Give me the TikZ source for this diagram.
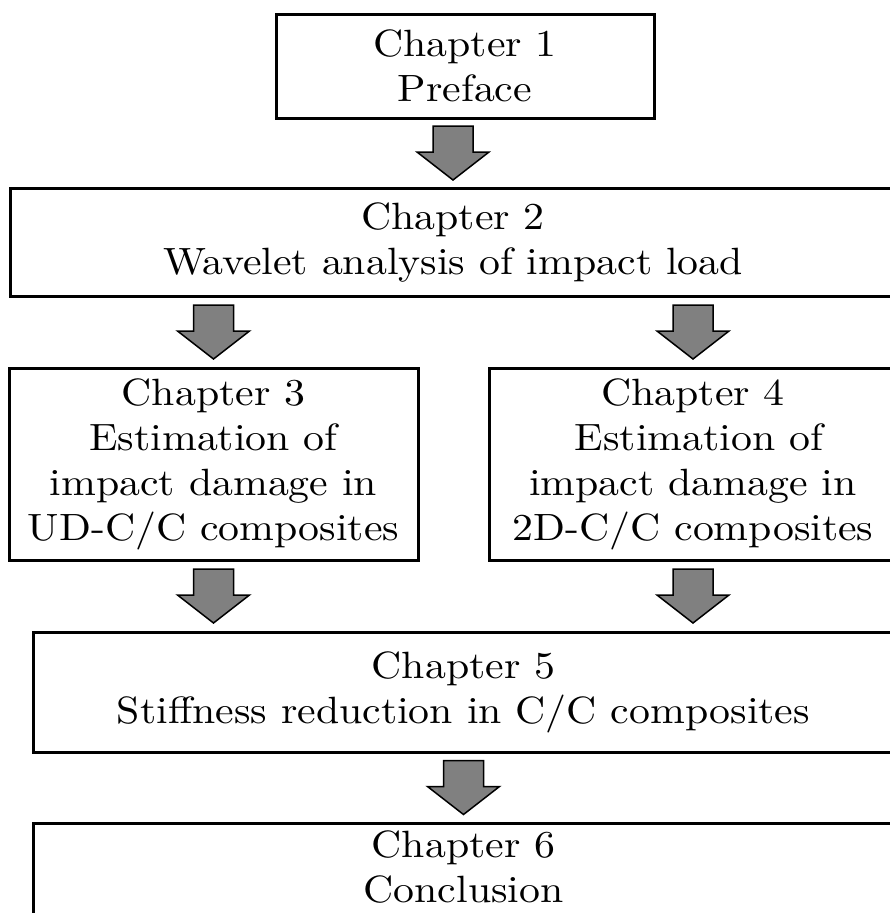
\documentclass[tikz,border=0pt]{standalone}
\usepackage{fontspec}
\setmainfont{lmroman10-regular.otf}[FakeStretch=1.1]
\usetikzlibrary{calc}
\definecolor{arrgray}{RGB}{128,128,128}
\begin{document}
\begin{tikzpicture}[x=1pt,y=-1pt,
  chap/.style={draw,line width=3pt,align=center,inner sep=0pt,font=\fontsize{38}{45}\selectfont},
  downarr/.pic={\filldraw[fill=arrgray,line width=1.5pt] (-20,-27) -- (20,-27) -- (20,-1) -- (36,-1) -- (0,27) -- (-36,-1) -- (-20,-1) -- cycle;}]
\useasboundingbox (0,0) rectangle (889,913);
\node[chap,minimum width=378pt,minimum height=104pt] (ch1) at (465,66) {Chapter 1\\Preface};
\node[chap,minimum width=886pt,minimum height=108pt] (ch2) at (453,242) {Chapter 2\\Wavelet analysis of impact load};
\node[chap,minimum width=409pt,minimum height=192pt] (ch3) at (213.5,464) {Chapter 3\\Estimation of\\impact damage in\\UD-C/C composites};
\node[chap,minimum width=408pt,minimum height=192pt] (ch4) at (693,464) {Chapter 4\\\hspace*{12pt}Estimation of\\impact damage in\\2D-C/C composites};
\node[chap,minimum width=861pt,minimum height=120pt] (ch5) at (463.5,692) {Chapter 5\\Stiffness reduction in C/C composites};
\node[chap,minimum width=861pt,minimum height=107pt,text depth=20pt] (ch6) at (463.5,876.5) {Chapter 6\\Conclusion};
% block arrows between the chapters
\pic at ($(ch1.south -| ch2.north)!0.5!(ch2.north)$) {downarr};
\pic at ($(ch2.south -| ch3.north)!0.5!(ch3.north)$) {downarr};
\pic at ($(ch2.south -| ch4.north)!0.5!(ch4.north)$) {downarr};
\pic at ($(ch3.south)!0.5!(ch5.north -| ch3.south)$) {downarr};
\pic at ($(ch4.south)!0.5!(ch5.north -| ch4.south)$) {downarr};
\pic at ($(ch5.south)!0.5!(ch6.north)$) {downarr};
\end{tikzpicture}
\end{document}
